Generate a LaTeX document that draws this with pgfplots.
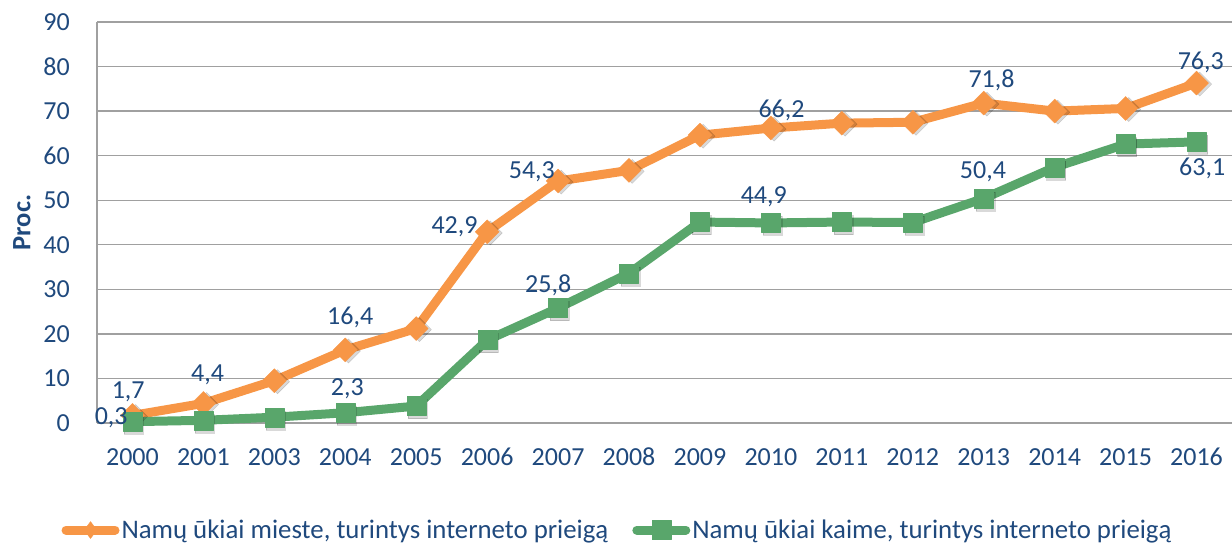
\documentclass[border=0pt]{standalone}
\usepackage{pgfplots}
\pgfplotsset{compat=1.18}
\usepackage{fontspec}
\setmainfont{Carlito}
\definecolor{txt}{HTML}{1F497D}
\definecolor{org}{HTML}{F79646}
\definecolor{grn}{HTML}{59A66B}
\definecolor{grd}{HTML}{A0A0A0}

\pgfplotstableread{
x y
0 1.7
1 4.4
2 9.5
3 16.4
4 21.2
5 42.9
6 54.3
7 56.7
8 64.6
9 66.2
10 67.3
11 67.5
12 71.8
13 70.0
14 70.6
15 76.3
}\urban

\pgfplotstableread{
x y
0 0.3
1 0.6
2 1.3
3 2.3
4 3.8
5 18.6
6 25.8
7 33.6
8 45.1
9 44.9
10 45.1
11 45.0
12 50.4
13 57.4
14 62.6
15 63.1
}\rural

\pgfplotstableread{
x y l
-0.06 6.96 {1,7}
1.06 10.8 {4,4}
3.07 23.6 {16,4}
4.54 44.0 {42,9}
5.63 56.3 {54,3}
9.15 70.2 {66,2}
12.11 77.0 {71,8}
15.06 81.0 {76,3}
-0.30 1.1 {0,3}
3.03 7.6 {2,3}
5.86 31.0 {25,8}
8.90 50.7 {44,9}
11.99 56.3 {50,4}
15.08 57.2 {63,1}
}\labels

\begin{document}
\begin{tikzpicture}
\useasboundingbox (0,0) rectangle (1232pt,544pt);
\begin{axis}[
 at={(97pt,121pt)}, anchor=south west,
 scale only axis, width=1135pt, height=401pt,
 xmin=-0.5, xmax=15.5, ymin=0, ymax=90,
 clip=false,
 xtick={0,...,15},
 xticklabels={2000,2001,2003,2004,2005,2006,2007,2008,2009,2010,2011,2012,2013,2014,2015,2016},
 ytick={0,10,...,90},
 /pgf/number format/assume math mode=true,
 major tick length=0pt,
 axis x line=bottom, axis y line=left,
 axis line style={-, draw=grd, line width=1.3pt},
 ymajorgrids, grid style={draw=grd, line width=1.3pt},
 tick label style={font=\fontsize{26}{30}\selectfont, text=txt, inner sep=0pt},
 yticklabel shift=27pt,
 xticklabel shift=25pt,
 ylabel={Proc.},
 every axis y label/.style={at={(rel axis cs:0,0.5)}, xshift=-75pt, rotate=90, anchor=center, text=txt,
   font=\bfseries\fontsize{26.5}{30}\selectfont},
 legend columns=2,
 legend cell align=left,
 legend style={at={(0.4586,-0.267)}, anchor=center, draw=none, fill=none, inner sep=0pt,
   font=\fontsize{26.8}{31}\selectfont,
   /tikz/every even column/.append style={column sep=22pt},
   nodes={inner xsep=2pt, inner ysep=0pt, text=txt}},
 legend image code/.code={\draw[mark repeat=2,mark phase=2,line cap=round,#1] plot coordinates {(4.5pt,0pt) (29pt,0pt) (53.5pt,0pt)};},
]
% marker shadows
\addplot[forget plot, only marks, mark=square*, mark size=8.5pt, black, opacity=0.15,
  mark options={rotate=45, draw=none, xshift=1.5pt, yshift=-3pt}] table[x=x,y=y] {\urban};
\addplot[forget plot, only marks, mark=square*, mark size=9.5pt, black, opacity=0.15,
  mark options={draw=none, xshift=1.5pt, yshift=-3pt}] table[x=x,y=y] {\rural};
\addplot[org, line width=9pt, line join=round, mark=square*, mark size=8.5pt, mark options={rotate=45, line width=0.3pt},
  legend image post style={mark=diamond*, mark size=8.5pt, mark options={line width=0.3pt}}] table[x=x,y=y] {\urban};
\addlegendentry{Namų ūkiai mieste, turintys interneto prieigą}
\addplot[grn, line width=9pt, line join=round, mark=square*, mark size=9.5pt, mark options={line width=0.3pt}] table[x=x,y=y] {\rural};
\addlegendentry{Namų ūkiai kaime, turintys interneto prieigą}
\addplot[draw=none, forget plot, nodes near coords, point meta=explicit symbolic,
  every node near coord/.append style={anchor=center, inner sep=0pt, font=\fontsize{26}{30}\selectfont, text=txt}]
  table[x=x,y=y,meta=l] {\labels};
\end{axis}
\end{tikzpicture}
\end{document}
